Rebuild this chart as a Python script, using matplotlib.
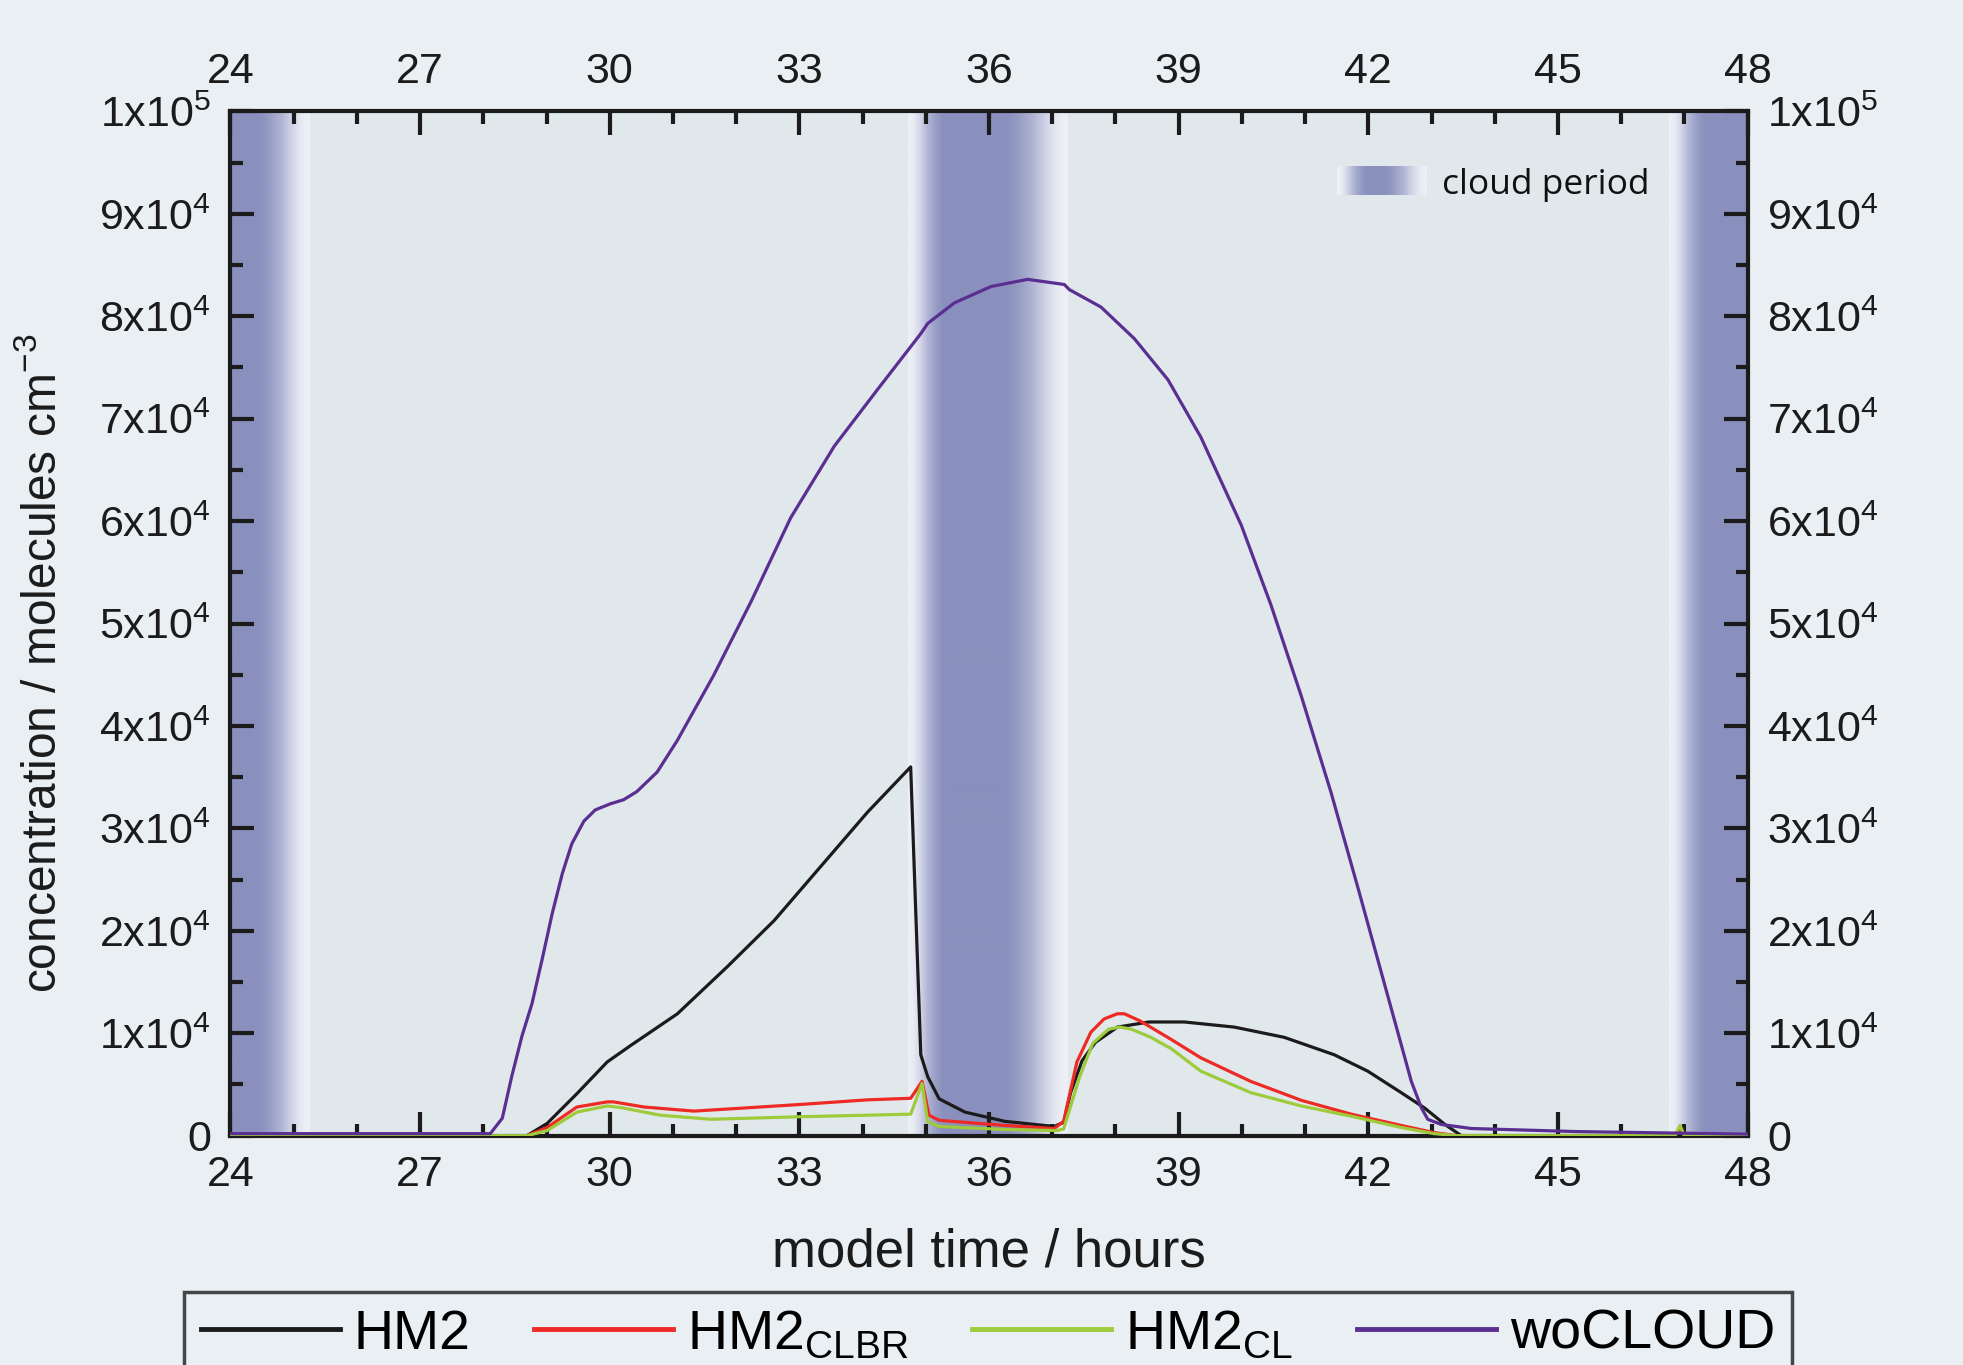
import numpy as np
import matplotlib
matplotlib.use("Agg")
import matplotlib.pyplot as plt
from matplotlib.colors import LinearSegmentedColormap
from matplotlib.lines import Line2D
from matplotlib.ticker import MultipleLocator, FuncFormatter

plt.rcParams['font.family'] = ['Liberation Sans', 'DejaVu Sans']
plt.rcParams['mathtext.fontset'] = 'custom'
plt.rcParams['mathtext.rm'] = 'Liberation Sans'

# model time (hours) and concentrations (molecules cm-3)
t_hm2 = [24.0, 28.69, 29.01, 29.48, 29.96, 30.33, 31.07, 31.86, 32.6, 33.34, 34.08,
         34.76, 34.92, 35.03, 35.21, 35.62, 36.25, 37.03, 37.18, 37.29, 37.47, 37.68,
         38.03, 38.53, 39.09, 39.88, 40.67, 41.46, 41.99, 42.52, 42.89, 43.21, 43.47,
         46.85, 46.93, 47.0, 48.0]
c_hm2 = [0, 0, 1200, 4100, 7200, 8800, 11900, 16500, 21000, 26300, 31600,
         36000, 7900, 5750, 3600, 2300, 1400, 900, 1300, 4200, 7300, 9100,
         10600, 11100, 11100, 10600, 9600, 7900, 6300, 4200, 2700, 1100, 0,
         0, 500, 0, 0]

t_clbr = [24.0, 28.69, 29.01, 29.48, 29.96, 30.06, 30.54, 31.33, 32.12, 33.02, 34.08,
          34.76, 34.94, 35.05, 35.21, 36.25, 37.03, 37.18, 37.39, 37.61, 37.82, 38.03,
          38.14, 38.39, 38.88, 39.35, 40.14, 40.94, 41.73, 42.52, 43.04, 43.4, 46.85,
          46.93, 47.0, 48.0]
c_clbr = [0, 0, 800, 2800, 3300, 3300, 2800, 2400, 2700, 3050, 3500,
          3650, 5300, 2000, 1500, 1000, 700, 1400, 7200, 10100, 11400, 11900,
          11900, 11200, 9400, 7600, 5300, 3450, 2100, 1000, 300, 0, 0,
          600, 0, 0]

t_cl = [24.0, 28.69, 29.01, 29.48, 29.96, 30.17, 30.8, 31.6, 33.02, 34.08, 34.76,
        34.94, 35.03, 35.21, 36.25, 37.07, 37.18, 37.43, 37.64, 37.89, 38.07, 38.25,
        38.56, 38.88, 39.35, 40.14, 40.94, 41.73, 42.52, 43.04, 43.4, 46.85, 46.93,
        47.0, 48.0]
c_cl = [0, 0, 500, 2300, 2900, 2750, 2000, 1600, 1850, 2000, 2100,
        5100, 1350, 900, 600, 500, 650, 5700, 9000, 10400, 10600, 10400,
        9600, 8500, 6300, 4200, 2900, 1900, 800, 200, 0, 0, 1000,
        0, 0]

t_wo = [24.0, 28.11, 28.30, 28.45, 28.61, 28.77, 28.93, 29.09, 29.25, 29.40, 29.59,
        29.77, 30.01, 30.22, 30.43, 30.75, 31.07, 31.64, 32.24, 32.86, 33.55, 34.23,
        34.92, 35.03, 35.45, 36.03, 36.61, 37.19, 37.27, 37.77, 38.3, 38.83, 39.35,
        39.99, 40.46, 40.94, 41.41, 41.84, 42.26, 42.68, 42.84, 42.94, 43.15, 43.63,
        45.3, 48.0]
c_wo = [200, 200, 1700, 5800, 9700, 12900, 17200, 21700, 25600, 28500, 30700,
        31800, 32400, 32800, 33600, 35500, 38600, 44900, 52200, 60300, 67300, 72800,
        78300, 79300, 81300, 82900, 83600, 83100, 82600, 80900, 77800, 73800, 68200,
        59600, 51800, 42900, 33500, 24100, 14700, 5300, 2700, 1600, 1100, 700,
        400, 150]

series_labels = ['HM2', r'HM2$_\mathregular{CLBR}$', r'HM2$_\mathregular{CL}$', 'woCLOUD']
series_colors = ['#1b1b1b', '#ee2a24', '#9dcb3c', '#5b2e92']

# cloud periods (hours) with fade widths at both edges
cloud_start = [23.0, 34.72, 46.75]
cloud_end = [25.25, 37.25, 49.0]
fade_left = [0.6, 0.6, 0.6]
fade_right = [0.85, 1.05, 0.6]

bg_fig = '#e9eff2'
bg_ax = '#e1e8ec'
cloud_cmap = LinearSegmentedColormap.from_list('cloud', ['#eef0f7', '#b4b8d6', '#8a90bd'])


def smooth(u):
    u = np.clip(u, 0, 1)
    return u * u * (3 - 2 * u)


def band_profile(x, x0, x1, wl, wr):
    return np.minimum(smooth((x - x0) / wl), smooth((x1 - x) / wr))


fig = plt.figure(figsize=(19.63, 13.65), dpi=100, facecolor=bg_fig)
ax = fig.add_axes([0.1174, 0.168, 0.7729, 0.7504])
ax.set_facecolor(bg_ax)

for x0, x1, wl, wr in zip(cloud_start, cloud_end, fade_left, fade_right):
    xs = np.linspace(x0, x1, 400)
    prof = band_profile(xs, x0, x1, wl, wr)
    ax.imshow(prof[np.newaxis, :], extent=(x0, x1, 0, 1e5), aspect='auto',
              cmap=cloud_cmap, vmin=0, vmax=1, zorder=0.5, interpolation='bilinear')

data = [(t_hm2, c_hm2), (t_clbr, c_clbr), (t_cl, c_cl), (t_wo, c_wo)]
for (t, c), col in zip(data, series_colors):
    ax.plot(t, c, color=col, lw=2.3, zorder=3)

ax.set_xlim(24, 48)
ax.set_ylim(0, 1e5)
ax.xaxis.set_major_locator(MultipleLocator(3))
ax.xaxis.set_minor_locator(MultipleLocator(1))
ax.yaxis.set_major_locator(MultipleLocator(1e4))
ax.yaxis.set_minor_locator(MultipleLocator(5e3))


def yfmt(v, pos):
    if v == 0:
        return '0'
    if v >= 1e5 - 1:
        return r'$\mathregular{1x10^{5}}$'
    return r'$\mathregular{%dx10^{4}}$' % round(v / 1e4)


ax.yaxis.set_major_formatter(FuncFormatter(yfmt))
ax.tick_params(which='both', direction='in', top=True, right=True,
               labeltop=True, labelright=True, width=3, colors='#1b1b1b',
               labelsize=31)
ax.tick_params(which='major', length=17)
ax.tick_params(which='minor', length=9)
ax.tick_params(axis='x', which='major', pad=14)
ax.tick_params(axis='y', which='major', pad=14)
for s in ax.spines.values():
    s.set_linewidth(3)
    s.set_color('#1b1b1b')

fig.text(0.504, 0.0718, 'model time / hours', fontsize=38, ha='center', va='baseline',
         color='#1b1b1b')
fig.text(0.0218, 0.514, r'concentration / molecules cm$^\mathregular{-3}$', fontsize=34.5,
         rotation=90, ha='center', va='center', color='#1b1b1b')

# cloud period key
kax = fig.add_axes([1337 / 1963, 1 - 195 / 1365, 90 / 1963, 29 / 1365])
kx = np.linspace(0, 1, 200)
kax.imshow(band_profile(kx, 0, 1, 0.35, 0.5)[np.newaxis, :], extent=(0, 1, 0, 1),
           aspect='auto', cmap=cloud_cmap, vmin=0, vmax=1)
kax.set_axis_off()
fig.text(1442 / 1963, 1 - 185 / 1365, 'cloud period', fontsize=25.5, va='center',
         ha='left', family=['Open Sans', 'DejaVu Sans'], color='#111111')

handles = [Line2D([], [], color=c, lw=3.5) for c in series_colors]
leg = fig.legend(handles, series_labels, loc='upper left',
                 bbox_to_anchor=(184 / 1963, 1 - 1292 / 1365), borderaxespad=0,
                 ncol=4, handlelength=2.5, handletextpad=0.25,
                 columnspacing=1.15, borderpad=0.3, fancybox=False,
                 prop={'family': ['Liberation Sans Narrow', 'Liberation Sans'], 'size': 40})
leg.get_frame().set_edgecolor('#1b1b1b')
leg.get_frame().set_linewidth(2.5)
leg.get_frame().set_facecolor(bg_fig)

fig.savefig('out.png', dpi=100, facecolor=bg_fig)
